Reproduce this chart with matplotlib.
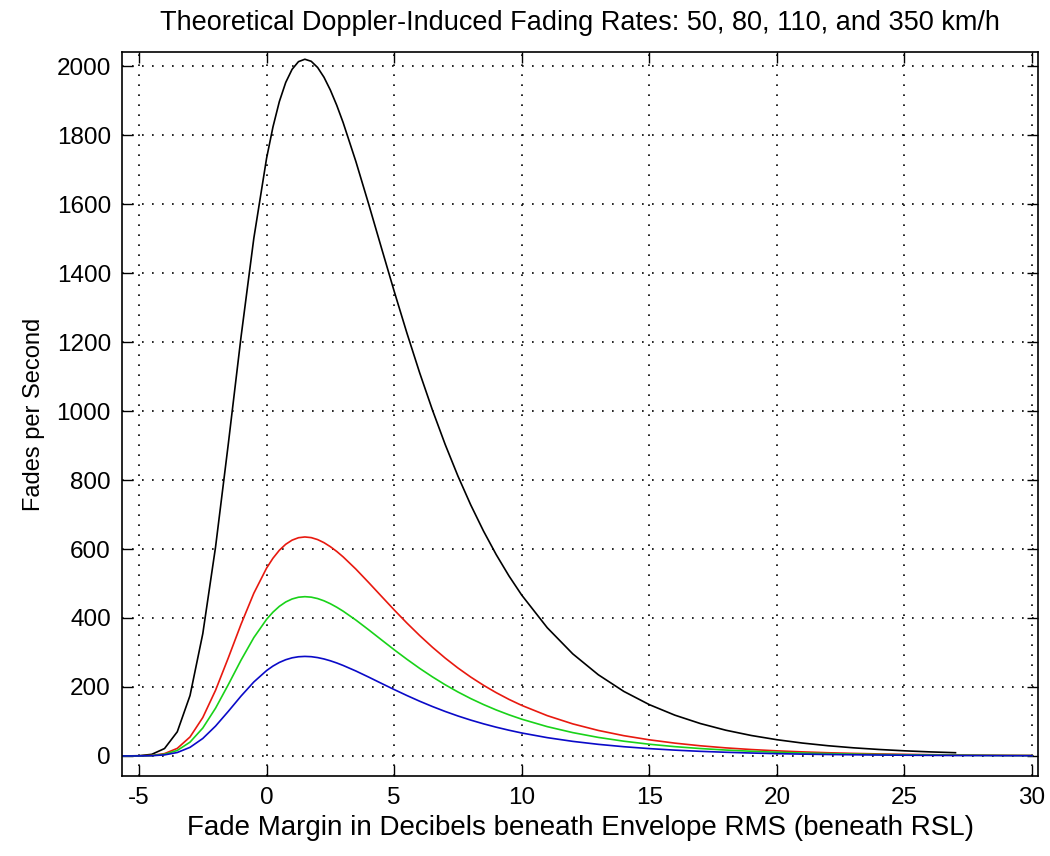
import matplotlib
matplotlib.use("Agg")
import matplotlib.pyplot as plt
import numpy as np

plt.rcParams['font.family'] = ['Liberation Sans', 'DejaVu Sans']
plt.rcParams['axes.unicode_minus'] = False

fade_db = [-5.7, -5.5, -5.0, -4.5, -4.0, -3.5, -3.0, -2.5, -2.0, -1.5, -1.0, -0.5,
           0.0, 0.25, 0.5, 0.75, 1.0, 1.25, 1.5, 1.75, 2.0, 2.25, 2.5, 2.75, 3.0,
           3.5, 4.0, 4.5, 5.0, 5.5, 6.0, 6.5,
           7.0, 7.5, 8.0, 8.5, 9.0, 9.5, 10.0, 11, 12, 13, 14, 15, 16, 17, 18, 19,
           20, 21, 22, 23, 24, 25, 26, 27, 28, 29, 30]

rate_350 = [0.0, 0.1, 0.7, 4.7, 21.5, 70.1, 175.3, 354.5, 605.7, 904.8, 1215.5, 1500.8,
            1732.8, 1823.6, 1897.1, 1952.6, 1990.7, 2012.9, 2019.9, 2013.9, 1996.0, 1967.7,
            1930.5, 1886.4, 1836.4,
            1723.4, 1600.2, 1473.4,
            1347.5, 1226.0, 1110.7, 1003.0, 903.0, 811.4, 728.0, 652.3, 583.7, 521.9, 466.3,
            371.8, 296.0, 235.5, 187.2, 148.8, 118.3, 94.0, 74.6, 59.3, 47.1, 37.4, 29.7,
            23.6, 18.8, 14.9, 11.8, 9.4, 7.5, 5.9, 4.7]

rate_110 = [0.0, 0.0, 0.2, 1.5, 6.8, 22.0, 55.1, 111.4, 190.4, 284.4, 382.0, 471.7,
            544.6, 573.2, 596.3, 613.7, 625.7, 632.7, 634.9, 633.0, 627.3, 618.4,
            606.7, 592.9, 577.2,
            541.7, 502.9, 463.1,
            423.5, 385.3, 349.1, 315.2, 283.8, 255.0, 228.8, 205.0, 183.5, 164.0, 146.6,
            116.9, 93.0, 74.0, 58.8, 46.8, 37.2, 29.5, 23.4, 18.6, 14.8, 11.8, 9.3,
            7.4, 5.9, 4.7, 3.7, 3.0, 2.4, 1.9, 1.5]

rate_80 = [0.0, 0.0, 0.2, 1.1, 4.9, 16.0, 40.1, 81.0, 138.5, 206.8, 277.9, 343.1,
           396.1, 416.9, 433.7, 446.4, 455.1, 460.2, 461.8, 460.4, 456.3, 449.8,
           441.3, 431.2, 419.8,
           394.0, 365.8, 336.8,
           308.0, 280.3, 253.9, 229.3, 206.4, 185.5, 166.4, 149.1, 133.4, 119.3, 106.6,
           85.0, 67.7, 53.8, 42.8, 34.0, 27.0, 21.5, 17.1, 13.6, 10.8, 8.5, 6.8,
           5.4, 4.3, 3.4, 2.7, 2.1, 1.7, 1.3, 1.1]

rate_50 = [0.0, 0.0, 0.1, 0.7, 3.1, 10.0, 25.0, 50.7, 86.6, 129.3, 173.7, 214.5,
           247.6, 260.6, 271.1, 279.0, 284.5, 287.6, 288.6, 287.8, 285.2, 281.2,
           275.9, 269.6, 262.4,
           246.3, 228.7, 210.5,
           192.6, 175.2, 158.7, 143.3, 129.0, 115.9, 104.0, 93.2, 83.4, 74.6, 66.6,
           53.1, 42.3, 33.7, 26.8, 21.3, 16.9, 13.4, 10.7, 8.5, 6.7, 5.3, 4.2,
           3.4, 2.7, 2.1, 1.7, 1.3, 1.1, 0.8, 0.7]

x_ticks = [-5, 0, 5, 10, 15, 20, 25, 30]
y_ticks = [0, 200, 400, 600, 800, 1000, 1200, 1400, 1600, 1800, 2000]

fig = plt.figure(figsize=(10.5, 8.56), dpi=100)
ax = fig.add_axes([0.1162, 0.0935, 0.8724, 0.8458])

x = np.array(fade_db)
mask_k = x <= 27.2
ax.plot(x[mask_k], np.array(rate_350)[mask_k], color='black', lw=1.2)
ax.plot(x, rate_110, color='#e8190f', lw=1.2)
ax.plot(x, rate_80, color='#19d219', lw=1.2)
ax.plot(x, rate_50, color='#0a0ac8', lw=1.2)

ax.set_xlim(-5.666, 30.235)
ax.set_ylim(-58, 2041)
ax.set_xticks(x_ticks)
ax.set_yticks(y_ticks)
ax.grid(True, color='black', linestyle=(0, (1, 5)), linewidth=1.2)
ax.tick_params(direction='in', length=8, width=1, top=True, right=True,
               labelsize=17.5, pad=8)
for s in ax.spines.values():
    s.set_linewidth(1.2)

ax.set_title('Theoretical Doppler-Induced Fading Rates: 50, 80, 110, and 350 km/h',
             fontsize=19.5, pad=16)
ax.set_xlabel('Fade Margin in Decibels beneath Envelope RMS (beneath RSL)', fontsize=20,
              labelpad=4)
ax.set_ylabel('Fades per Second', fontsize=17, labelpad=8)

fig.savefig('out.png', dpi=100)
